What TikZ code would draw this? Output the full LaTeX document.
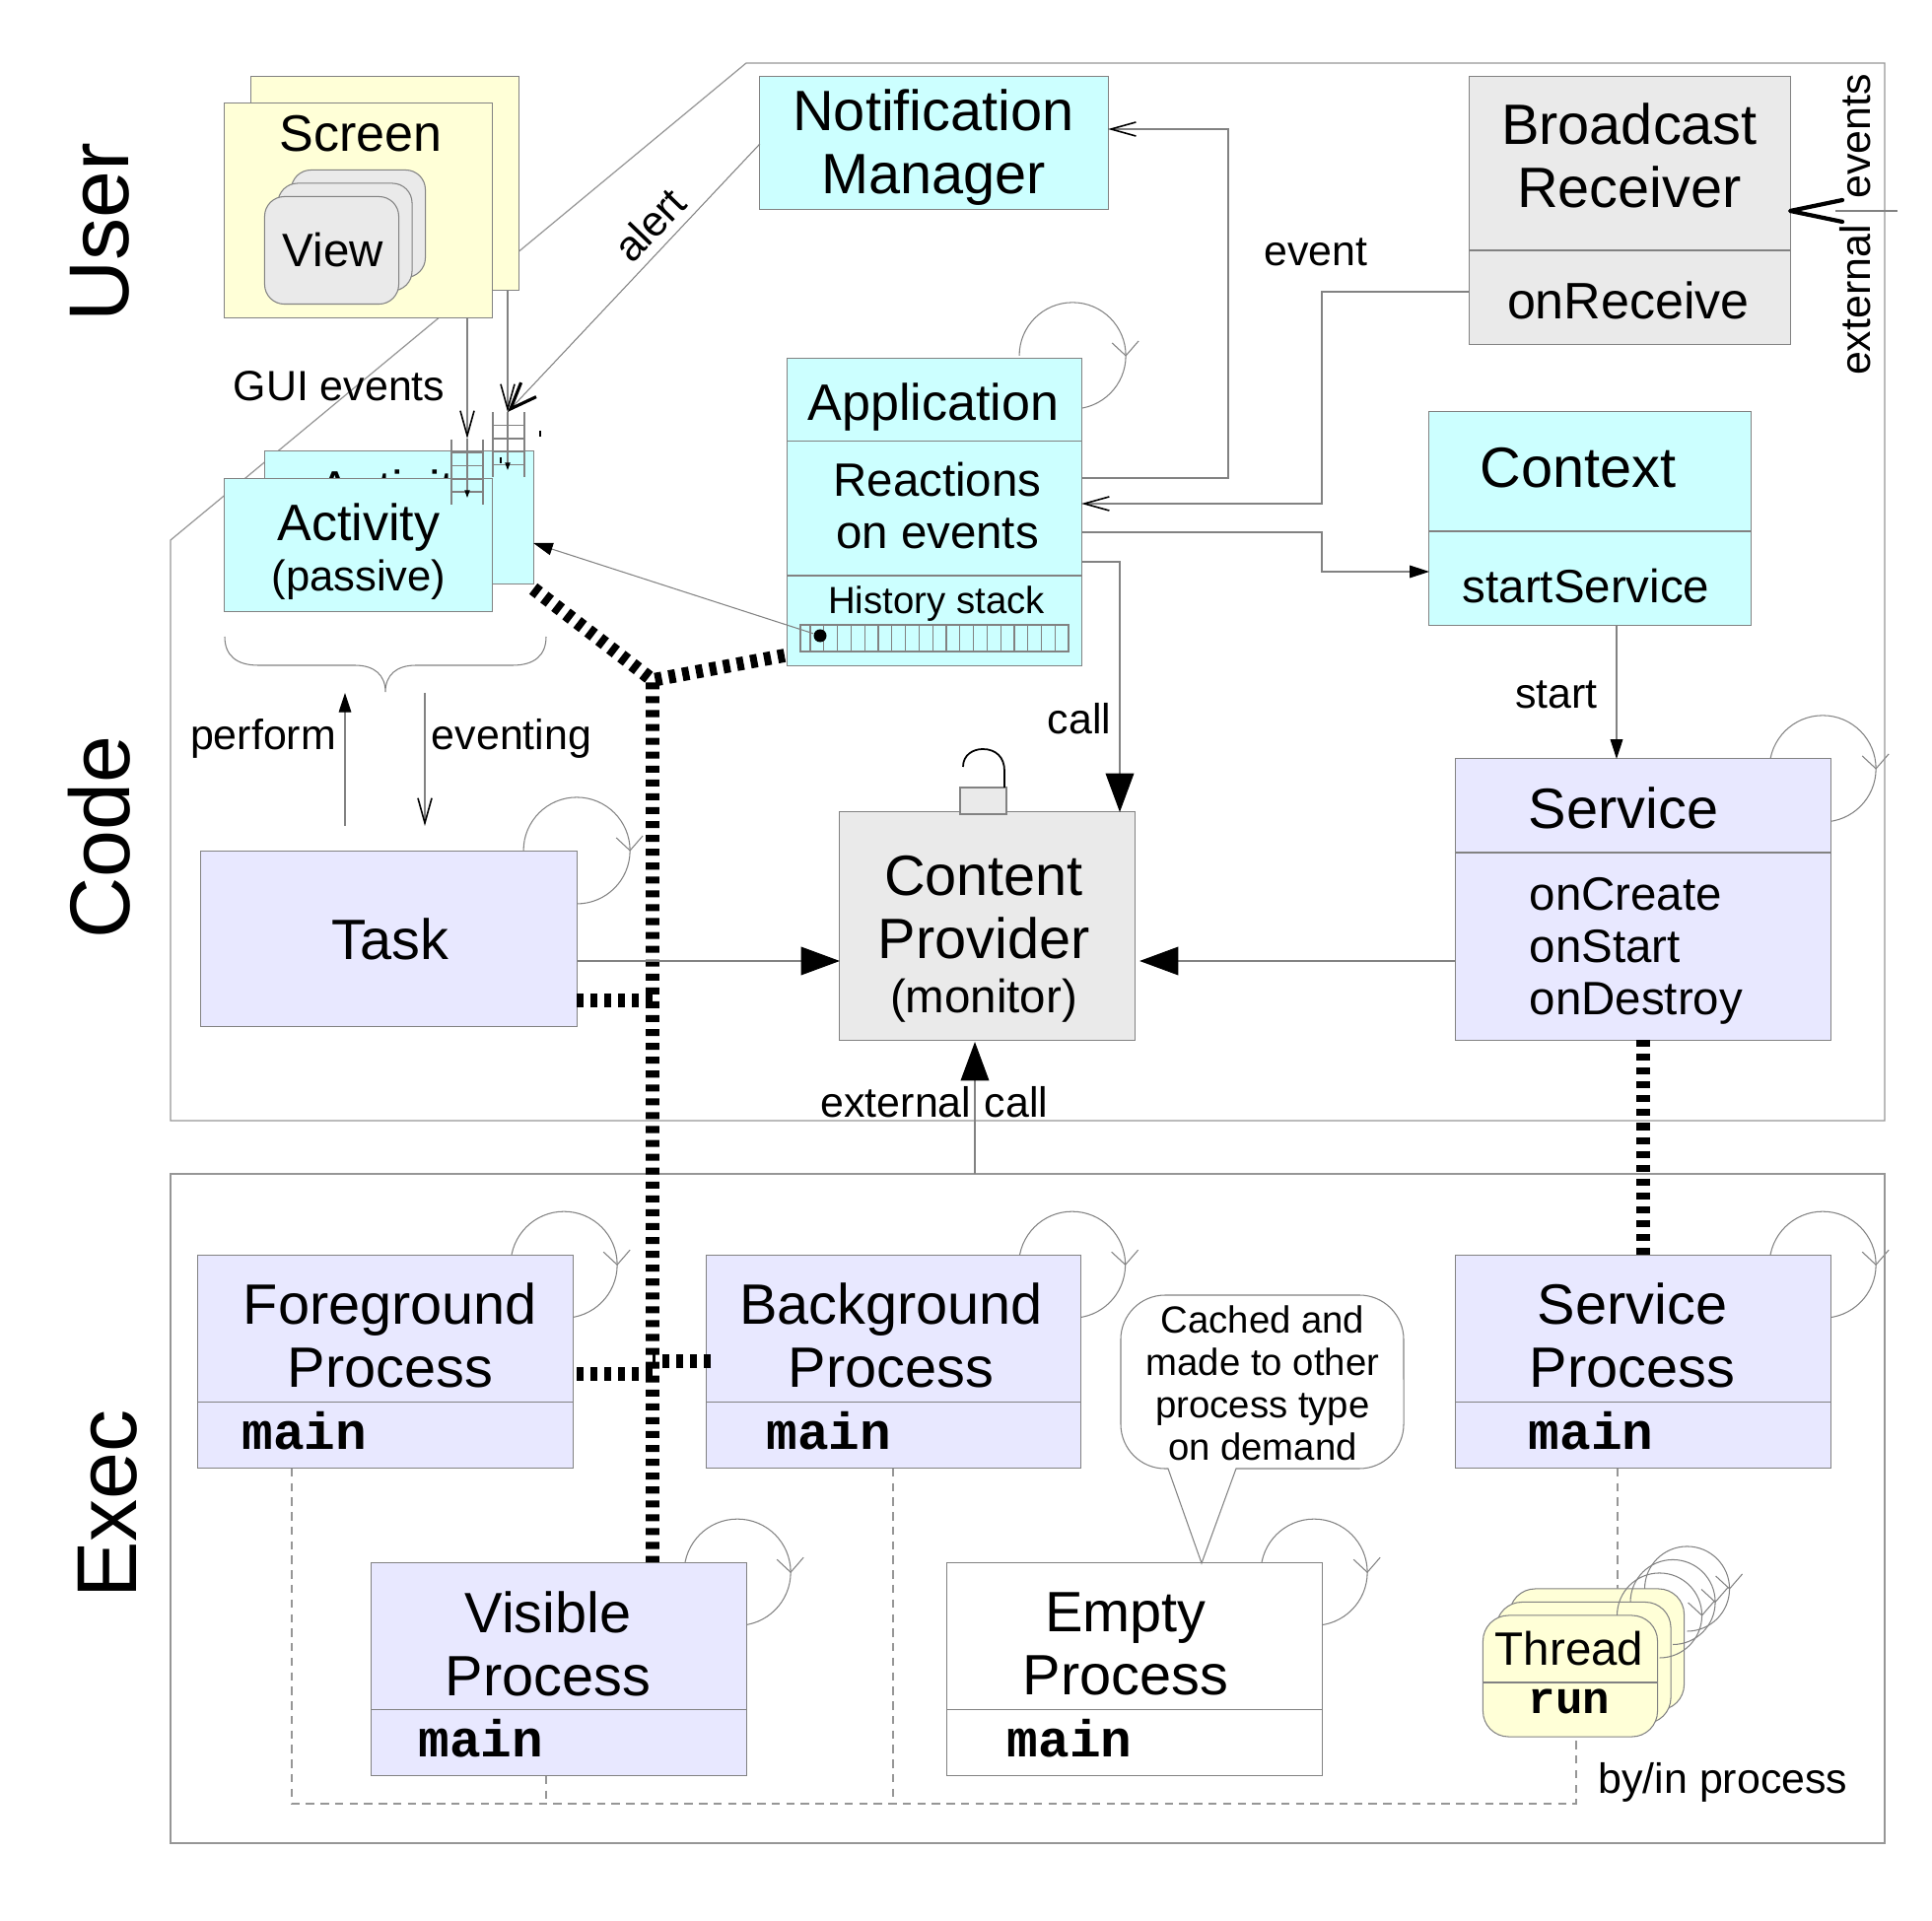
\documentclass[tikz,border=0pt]{standalone}
\usepackage{fontspec}
\setmainfont{Liberation Sans}
\setmonofont{Liberation Mono}
\usepackage{xcolor}
\usetikzlibrary{arrows.meta,calc,backgrounds}
\definecolor{edge}{RGB}{130,130,130}
\definecolor{frameline}{RGB}{150,150,150}
\definecolor{soft}{RGB}{234,234,234}
\definecolor{aqua}{RGB}{204,255,255}
\definecolor{lav}{RGB}{232,232,255}
\definecolor{lemon}{RGB}{255,255,215}
\newcommand{\fs}[2]{\fontsize{#1}{#2}\selectfont}
% a round arrow sitting on the corner of a box
\newcommand{\selfloop}[4]{%
  \coordinate (lc) at ($(#1.north east)+(#2,#3)$);
  \draw[thin line] ($(lc)+(180:#4)$) arc[start angle=180,end angle=-90,radius=#4];
  \draw[thin line] ($(lc)+(#4,0)+(-14,-13)$) -- ($(lc)+(#4,0)$) -- ($(lc)+(#4,0)+(13,-15)$);
}
\tikzset{
  thin line/.style={draw=edge,line width=.3pt},
  framebox/.style={draw=frameline,line width=.35pt},
  box/.style={rectangle,draw=edge,line width=.3pt,inner sep=0pt,outer sep=0pt},
  screenbox/.style={box,fill=lemon,minimum width=2.72cm,minimum height=2.17cm},
  actbox/.style={box,fill=aqua,minimum width=2.72cm,minimum height=1.345cm},
  procbox/.style={box,fill=lav,minimum width=3.8cm,minimum height=2.165cm},
  viewcard/.style={box,fill=soft,rounded corners=.2cm,minimum width=1.36cm,minimum height=1.09cm},
  thrcard/.style={box,fill=lemon,rounded corners=.26cm,minimum width=1.77cm,minimum height=1.23cm},
  lbl/.style={inner sep=0pt,align=center},
  huge/.style={lbl,font=\fs{24.5}{26}},
  big/.style={lbl,font=\fs{16.4}{18.2}},
  mid/.style={lbl,font=\fs{14.8}{16.5}},
  small/.style={lbl,font=\fs{13.5}{15}},
  note/.style={lbl,font=\fs{12.2}{14}},
  tiny/.style={lbl,font=\fs{10.9}{12.2}},
  mainlbl/.style={lbl,font=\ttfamily\bfseries\fs{15}{15}},
  same/.style={dash pattern=on 2pt off 2pt,line width=3.9pt,black},
  owned/.style={draw=frameline,line width=.3pt,dash pattern=on 2.4pt off 1.8pt},
  tipopen/.style={-{Straight Barb[length=7.2pt,width=4pt,line width=.45pt,color=black]}},
  tiplarge/.style={-{Straight Barb[length=7.6pt,width=6pt,line width=.9pt,color=black]}},
  tipsolid/.style={-{Triangle[length=5.6pt,width=3.6pt,color=black]}},
  tipmini/.style={-{Triangle[length=2.2pt,width=1.5pt,color=black]}},
  tipbig/.style={-{Triangle[length=11.2pt,width=8.2pt,color=black]}},
}
\begin{document}
\begin{tikzpicture}[x=0.01cm,y=-0.01cm]
\useasboundingbox (0,0) rectangle (1960,1949);
% the two big frames
\draw[framebox] (173,548) -- (757,64) -- (1912,64) -- (1912,1137) -- (173,1137) -- cycle;
\draw[framebox] (173,1191) rectangle (1912,1870);
\node[huge,rotate=90] (userlbl) at (101,236) {User};
\node[huge,rotate=90] (codelbl) at (101,850) {Code};
\node[huge,rotate=90] (execlbl) at (109,1526) {Exec};

% screens
\node[screenbox] (screenB) at (390.5,186) {};
\node[screenbox] (screenA) at (363.5,213.5) {};
\node[lbl,font=\fs{14.8}{16.5}] (screenlbl) at (366,136) {Screen};
\node[viewcard] (viewC) at (363.5,227) {};
\node[viewcard] (viewB) at (350,240.5) {};
\node[viewcard] (viewA) at (336.5,254) {};
\node[small] (viewlbl) at (338,254) {View};

% activities
\node[actbox] (actB) at (405,525) {};
\node[mid] (actBlbl) at (405,501) {Activity};
\node[actbox] (actA) at (363.5,553) {};
\node[mid] (actAlbl) at (364,535) {Activity};
\node[small,font=\fs{12.4}{15}] (passlbl) at (364,588) {(passive)};
\draw[thin line] (228,646) .. controls (228,665) and (240,675) .. (262,675) -- (360,675) .. controls (380,675) and (391,685) .. (391,702)
   .. controls (391,685) and (402,675) .. (422,675) -- (520,675) .. controls (542,675) and (554,665) .. (554,646);

% the two event queues
\foreach \qx/\qy in {458/446,500/418.5}{
  \foreach \i in {0,32}
    \draw[thin line] (\qx+\i,\qy) -- (\qx+\i,\qy+66);
  \foreach \j in {13,26.5,40,53}
    \draw[thin line] (\qx,\qy+\j) -- (\qx+32,\qy+\j);
}
\draw[line width=.7pt] (548,437) -- (548,443);
\draw[line width=.7pt] (508,464) -- (508,470);
\coordinate (guiA) at (474,445);
\coordinate (guiB) at (515,418);
\draw[thin line,tipopen] (screenA.south -| guiA) -- (guiA);
\draw[thin line,tipmini] (guiA) -- (474,505);
\draw[thin line,tipopen] (screenB.south -| guiB) -- (guiB);
\draw[thin line,tipmini] (guiB) -- (515,477);

% notification manager
\node[box,fill=aqua,minimum width=3.53cm,minimum height=1.355cm] (notif) at (947.5,145) {};
\node[big] (notiflbl) at (947,150) {Notification\\Manager};
\draw[thin line,tiplarge] (notif.west |- 0,146) -- (guiB);
\node[note,rotate=46] (alertlbl) at (659,228) {alert};

% broadcast receiver
\node[box,fill=soft,minimum width=3.25cm,minimum height=2.715cm] (bcast) at (1653.5,213.5) {};
\draw[thin line] (bcast.west |- 0,254) -- (bcast.east |- 0,254);
\node[big] (bcastlbl) at (1653,158) {Broadcast\\Receiver};
\node[mid] (recvlbl) at (1652,305) {onReceive};
\node[note,rotate=90] (extlbl) at (1882,228) {external\hspace{7.6pt}events};
\coordinate (extfree) at (1925,214);
\draw[thin line] (extfree) -- (1862,214);
\draw[line width=1.2pt,line join=round,line cap=round] (1869,203) -- (bcast.east |- 0,214) -- (1869,225);
\node[note] (eventlbl) at (1335,256) {event};

% context
\node[box,fill=aqua,minimum width=3.26cm,minimum height=2.165cm] (context) at (1613,526) {};
\draw[thin line] (context.west |- 0,539) -- (context.east |- 0,539);
\node[big] (contextlbl) at (1601,475) {Context};
\node[small] (startsvc) at (1609,595) {startService};

% application
\node[box,fill=aqua,minimum width=2.98cm,minimum height=3.11cm] (app) at (948,519.5) {};
\draw[thin line] (app.west |- 0,447.5) -- (app.east |- 0,447.5);
\draw[thin line] (app.west |- 0,584) -- (app.east |- 0,584);
\node[mid] (applbl) at (947,413) {Application};
\node[small] (reactlbl) at (951,513) {Reactions\\on events};
\node[tiny] (histlbl) at (950,613) {History stack};
\draw[thin line] (812,634) rectangle (1084,661);
\foreach \i in {0,...,19}
  \draw[thin line] (822+13.8*\i,634) -- (822+13.8*\i,661);
\node[circle,fill=black,inner sep=0pt,minimum size=.13cm] (histdot) at (832,645) {};
\draw[thin line,tipsolid] (histdot) -- (actB.east |- 0,551);

% content provider with its lock
\node[box,fill=soft,minimum width=2.99cm,minimum height=2.31cm] (provider) at (1001.5,939.5) {};
\node[box,fill=soft,minimum width=.47cm,minimum height=.27cm] (lock) at (997.5,812.5) {};
\draw[line width=.5pt] (977,778) .. controls (977,766) and (987,760) .. (997,760) .. controls (1010,760) and (1019,768) .. (1019,782) -- (lock.north -| 1019,0);
\node[big] (providerlbl) at (998,921) {Content\\Provider};
\node[small] (monitorlbl) at (998,1015) {(monitor)};
\node[note] (calllbl) at (1095,729) {call};
\node[note] (extcall) at (948,1118) {external\hspace{.5pt} call};

% task and service
\node[box,fill=lav,minimum width=3.81cm,minimum height=1.77cm] (task) at (394.5,952.5) {};
\node[big] (tasklbl) at (396,953) {Task};
\node[note] (perflbl) at (267,749) {perform};
\node[note] (evtlbl) at (519,749) {eventing};
\coordinate (perfEnd) at (350,703);
\coordinate (evtEnd) at (431,703);
\draw[thin line,tipsolid] (task.north -| perfEnd) ++(0,-26) -- (perfEnd);
\draw[thin line,tipopen] (evtEnd) -- (431,838);
\node[note] (guilbl) at (344,392) {GUI events};

\node[box,fill=lav,minimum width=3.8cm,minimum height=2.85cm] (service) at (1667,912.5) {};
\draw[thin line] (service.west |- 0,865) -- (service.east |- 0,865);
\node[big] (servicelbl) at (1647,820) {Service};
\node[small,anchor=north west,align=left,font=\fs{13.5}{15}] (hooks) at (1551,890) {onCreate\\onStart\\onDestroy};
\node[note] (startlbl) at (1579,705) {start};

% processes
\node[procbox] (fgproc) at (391,1381.5) {};
\node[procbox] (bgproc) at (906.5,1381.5) {};
\node[procbox] (svcproc) at (1667,1381.5) {};
\node[procbox] (visproc) at (567,1693.5) {};
\node[procbox,fill=white] (emptyproc) at (1151,1693.5) {};
\foreach \n in {fgproc,bgproc,svcproc,visproc,emptyproc}
  \draw[thin line] ($(\n.north west)+(0,149)$) -- ($(\n.north east)+(0,149)$);
\node[big] (fglbl) at (396,1355) {Foreground\\Process};
\node[big] (bglbl) at (904,1355) {Background\\Process};
\node[big] (svclbl) at (1656,1355) {Service\\Process};
\node[big] (vislbl) at (556,1668) {Visible\\Process};
\node[big] (emptylbl) at (1142,1668) {Empty\\Process};
\node[mainlbl] (fgmain) at (309,1452) {main};
\node[mainlbl] (bgmain) at (841,1452) {main};
\node[mainlbl] (svcmain) at (1614,1452) {main};
\node[mainlbl] (vismain) at (488,1764) {main};
\node[mainlbl] (emptymain) at (1085,1764) {main};

% callout for the empty process
\draw[thin line,fill=white] (1254,1490) -- (1379,1490) arc[start angle=-90,end angle=0,radius=.45cm] -- (1424,1359) arc[start angle=0,end angle=90,radius=.45cm]
   -- (1182,1314) arc[start angle=90,end angle=180,radius=.45cm] -- (1137,1445) arc[start angle=180,end angle=270,radius=.45cm] -- (1185,1490) -- (1219,1586) -- cycle;
\node[tiny] (cachedlbl) at (1281,1403) {Cached and\\made to other\\process type\\on demand};

% threads, each with its own round arrow
\node[thrcard] (thrC) at (1620,1673.5) {};
\selfloop{thrC}{3}{0}{.43cm}
\node[thrcard] (thrB) at (1606.5,1687) {};
\selfloop{thrB}{2}{0}{.43cm}
\node[thrcard] (thrA) at (1593,1700.5) {};
\selfloop{thrA}{2}{0}{.43cm}
\draw[thin line] (thrA.west |- 0,1707) -- (thrA.east |- 0,1707);
\node[small] (threadlbl) at (1592,1673) {Thread};
\node[mainlbl,font=\ttfamily\bfseries\fs{13}{13}] (runlbl) at (1592,1726) {run};
\node[note] (bylbl) at (1748,1808) {by/in process};

% ownership lines
\draw[owned] (fgproc.south -| 296,0) -- (296,1830) -- (1599,1830) -- (thrA.south -| 1599,0);
\draw[owned] (visproc.south -| 554,0) -- (554,1830);
\draw[owned] (bgproc.south -| 906,0) -- (906,1830);
\draw[owned] (svcproc.south -| 1641,0) -- (thrC.north -| 1641,0);

% same process lines
\coordinate (meet) at (662,690);
\draw[same] (actB.south east) ++(0,5) -- (meet) -- (visproc.north -| meet);
\draw[same] (app.west |- 0,665) ++(-3,0) -- (meet);
\draw[same] (task.east |- 0,1015) -- (meet |- 0,1015);
\draw[same] (service.south -| 1667,0) -- (svcproc.north -| 1667,0);
\draw[same] (fgproc.east |- 0,1394) ++(4,0) -- (meet |- 0,1394);
\draw[same] (bgproc.west |- 0,1381) ++(5,0) -- (meet |- 0,1381);

% the other calls between boxes
\draw[thin line,tipopen] (app.east |- 0,485) -- (1246,485) -- (1246,131) -- (notif.east |- 0,131);
\draw[thin line,tipopen] (bcast.west |- 0,296) -- (1341,296) -- (1341,511) -- (app.east |- 0,511);
\draw[thin line,tipsolid] (app.east |- 0,540) -- (1341,540) -- (1341,580) -- (context.west |- 0,580);
\draw[thin line,tipbig] (app.east |- 0,570) -- (1136,570) -- (provider.north -| 1136,0);
\draw[thin line,tipsolid] (context.south -| 1640,0) -- (service.north -| 1640,0);
\draw[thin line,tipbig] (task.east |- 0,975) -- (provider.west |- 0,975);
\draw[thin line,tipbig] (service.west |- 0,975) -- ($(provider.east |- 0,975)+(5,0)$);
\draw[thin line,tipbig] (989,1191) -- ($(provider.south -| 989,0)+(0,2)$);

\begin{scope}[on background layer]
\foreach \n/\dx/\dy in {app/-9/-3,task/0/-1,service/-8/10,fgproc/-9/10,bgproc/-9/10,svcproc/-8/10,visproc/-9/10,emptyproc/-8/10}{
  \selfloop{\n}{\dx}{\dy}{.54cm}
}
\end{scope}
\end{tikzpicture}
\end{document}
